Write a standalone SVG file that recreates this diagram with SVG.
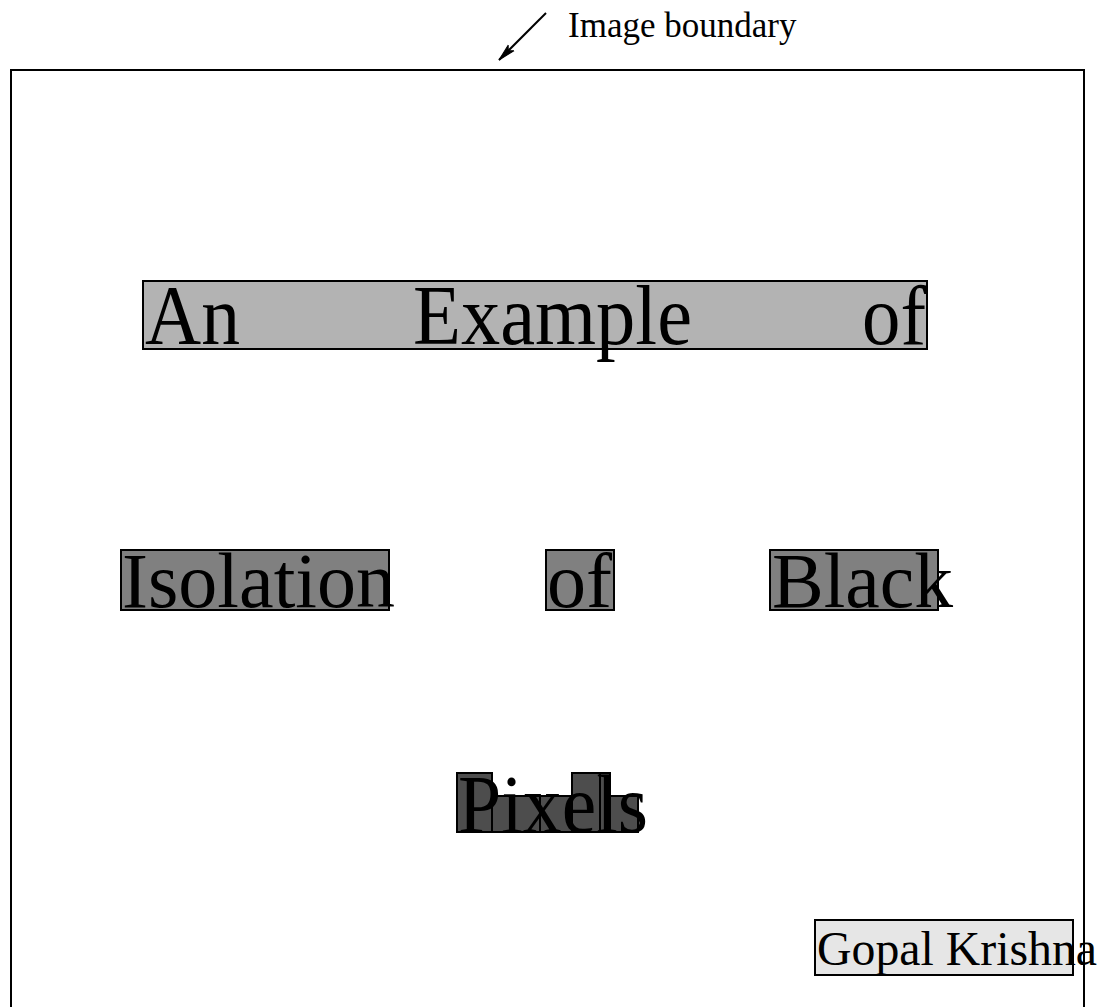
<svg xmlns="http://www.w3.org/2000/svg" width="1103" height="1007" viewBox="0 0 1103 1007">
<style>
text{font-family:"Liberation Serif","Times New Roman",serif;fill:#000}
.big{font-size:84px}
.mid{font-size:79px}
.box{stroke:#000;stroke-width:2}
.g1{fill:#b3b3b3}.g2{fill:#808080}.g3{fill:#4d4d4d}.g4{fill:#e6e6e6}
</style>
<defs>
<marker id="ah" markerWidth="18" markerHeight="10" refX="17" refY="5" orient="auto" markerUnits="userSpaceOnUse">
<path d="M0,1 L17,5 L0,9 L4,5 Z" fill="#000" stroke="#000" stroke-width="1"/>
</marker>
</defs>
<rect width="1103" height="1007" fill="#fff"/>
<g id="boundary">
<path d="M11,1010 V70 H1084 V1010" fill="none" stroke="#000" stroke-width="2"/>
<text x="568" y="37" font-size="35">Image boundary</text>
</g>
<g id="connectors">
<line x1="546" y1="13" x2="499" y2="60" stroke="#000" stroke-width="2" marker-end="url(#ah)"/>
</g>
<g id="row1">
<rect class="box g1" x="143" y="281" width="784" height="68"/>
<text class="big" x="145" y="344" textLength="95" lengthAdjust="spacingAndGlyphs">An</text>
<text class="big" x="413" y="344" textLength="279" lengthAdjust="spacingAndGlyphs">Example</text>
<text class="big" x="862" y="344" textLength="64" lengthAdjust="spacingAndGlyphs">of</text>
</g>
<g id="row2-isolation">
<rect class="box g2" x="121" y="550" width="268" height="60"/>
<text class="mid" x="122" y="607" textLength="273" lengthAdjust="spacingAndGlyphs">Isolation</text>
</g>
<g id="row2-of">
<rect class="box g2" x="546" y="550" width="68" height="60"/>
<text class="mid" x="547" y="607" textLength="65" lengthAdjust="spacingAndGlyphs">of</text>
</g>
<g id="row2-black">
<rect class="box g2" x="770" y="550" width="168" height="60"/>
<text class="mid" x="772" y="607" textLength="181" lengthAdjust="spacingAndGlyphs">Black</text>
</g>
<g id="pixels">
<rect class="box g3" x="457" y="773" width="35" height="59"/>
<rect class="box g3" x="492" y="796" width="48" height="36"/>
<rect class="box g3" x="540" y="796" width="32" height="36"/>
<rect class="box g3" x="572" y="773" width="28" height="59"/>
<rect class="box g3" x="600" y="773" width="10" height="59"/>
<rect class="box g3" x="610" y="796" width="28" height="36"/>
<text x="458" y="832" font-size="82" textLength="190" lengthAdjust="spacingAndGlyphs">Pixels</text>
</g>
<g id="author">
<rect class="box g4" x="815" y="920" width="258" height="55"/>
<text x="817" y="965" font-size="48" textLength="280" lengthAdjust="spacingAndGlyphs">Gopal Krishna</text>
</g>
</svg>
